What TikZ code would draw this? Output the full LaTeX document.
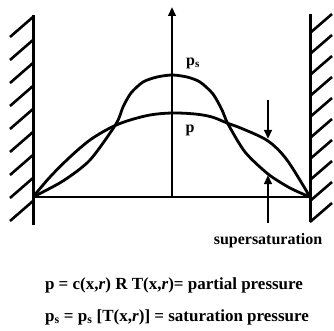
\documentclass[tikz,border=0pt]{standalone}
\usepackage{fontspec}
\setmainfont{Liberation Serif}
\usepackage{tikz}
\usetikzlibrary{arrows.meta,positioning}
\tikzset{
  wall/.style={line width=3pt},
  hatch/.style={line width=2.6pt},
  curve/.style={line width=2.8pt, line join=round},
  axisline/.style={line width=2.4pt},
  arrow/.style={-{Triangle[length=9pt,width=7.5pt]}, line width=2.4pt},
  lbl/.style={font=\fontsize{16}{18}\selectfont\bfseries, inner sep=0pt},
  eq/.style={font=\fontsize{17}{20}\selectfont\bfseries, inner sep=0pt}
}

\begin{document}
\begin{tikzpicture}[x=1pt,y=-1pt]
  \useasboundingbox (0,0) rectangle (334,331);

  % walls
  \coordinate (lw-top) at (33,15);
  \coordinate (lw-bot) at (33,225);
  \coordinate (rw-top) at (310,14);
  \coordinate (rw-bot) at (310,222);
  \draw[wall] (lw-top) -- (lw-bot);
  \draw[wall] (rw-top) -- (rw-bot);
  \foreach \i in {0,...,8} {
    \draw[hatch] (10,37+23*\i) -- ++(23,-20);
  }
  \foreach \i in {0,...,9} {
    \draw[hatch] (310,33+21*\i) -- ++(22,-19);
  }

  % base line and axis
  \coordinate (lc) at (33,197);
  \coordinate (rc) at (310,197);
  \coordinate (o) at (172,197);
  \coordinate (ax-top) at (172,7);
  \draw[axisline] (lc) -- (rc);
  \draw[arrow] (o) -- (ax-top);

  % partial pressure p
  \draw[curve] plot[smooth, tension=0.55] coordinates {
    (33,197) (50,177) (70,157) (90,140) (110,128) (127,121) (150,115)
    (172,113) (195,114) (212,117) (227,123) (243,129) (268,141) (287,160) (310,197)};

  % saturation pressure p_s
  \draw[curve] plot[smooth, tension=0.45] coordinates {
    (33,197) (63,181) (90,160) (116,124) (123,107) (131,93)
    (143,82) (157,77) (172,75) (187,77) (200,82) (213,94) (222,110)
    (228,124) (245,152) (268,174) (290,188) (310,197)};

  \node[lbl] (ps-lbl) at (193,63) {p\textsubscript{s}};
  \node[lbl] (p-lbl) at (190,130) {p};

  % supersaturation arrows
  \coordinate (dn-start) at (268,100);
  \coordinate (dn-end) at (268,139);
  \coordinate (up-start) at (268,223);
  \coordinate (up-end) at (268,175);
  \draw[arrow] (dn-start) -- (dn-end);
  \draw[arrow] (up-start) -- (up-end);
  \node[lbl, below=10pt of up-start] (super) {supersaturation};

  \node[eq] (eq-p) at (174,285) {p = c(x,\textit{r}) R T(x,\textit{r})= partial pressure};
  \node[eq] (eq-ps) at (177,317) {p\textsubscript{s} = p\textsubscript{s} [T(x,\textit{r})] = saturation pressure};
\end{tikzpicture}
\end{document}
